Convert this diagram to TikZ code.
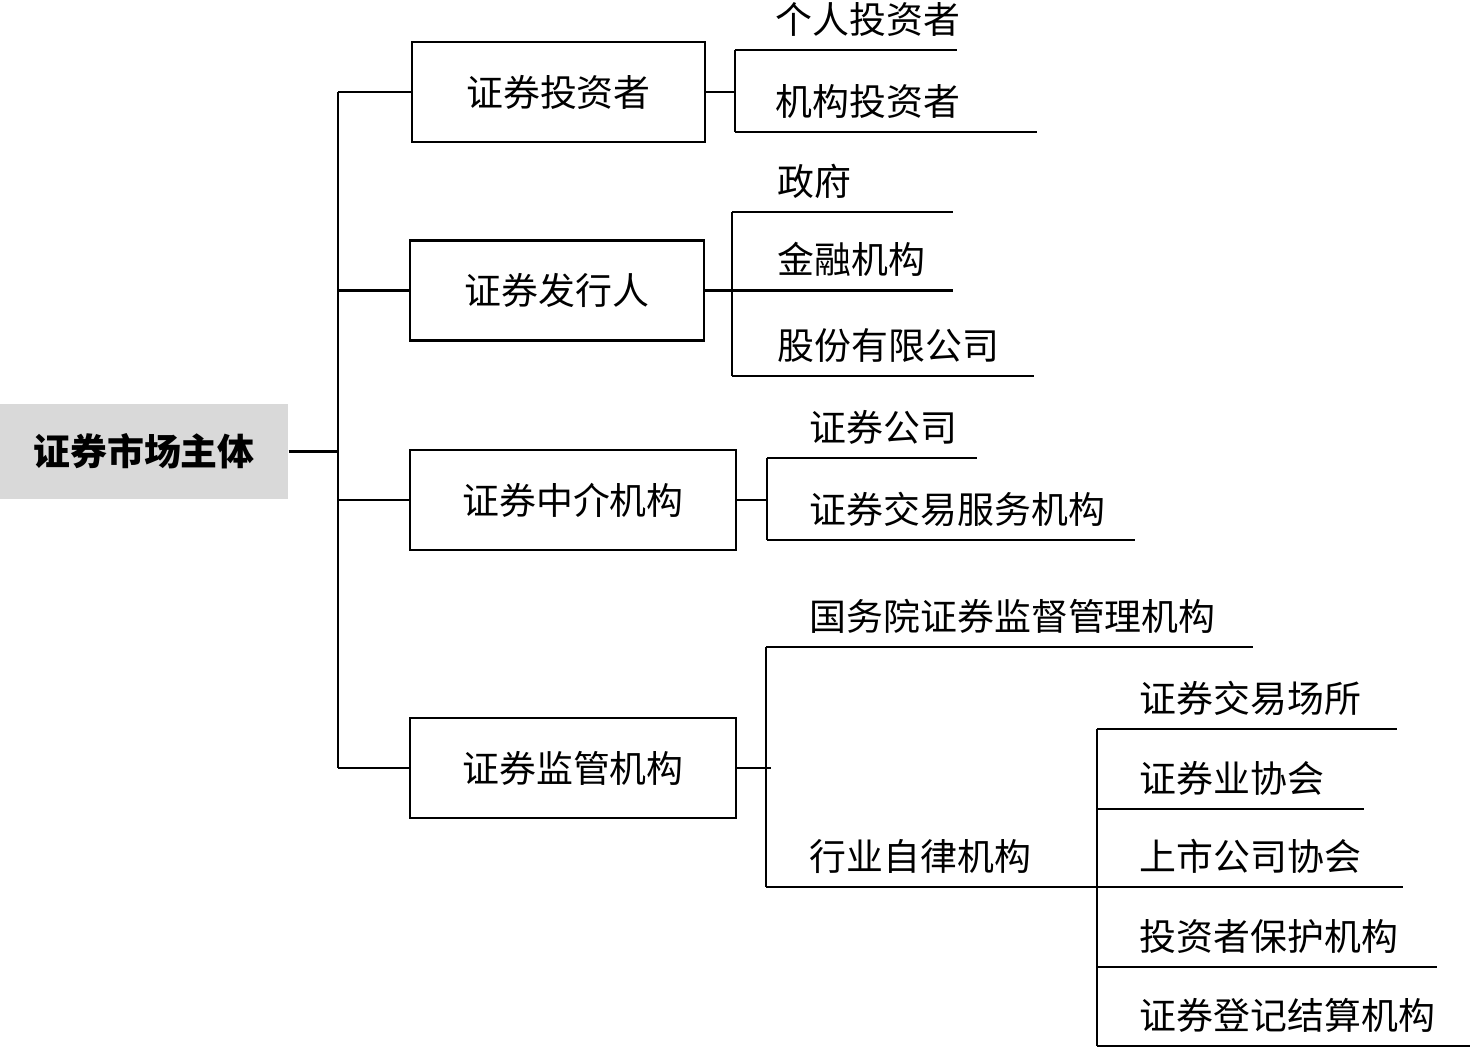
\documentclass[tikz,border=0pt]{standalone}
\usepackage{fontspec}
\setmainfont{Noto Sans CJK SC}
\usetikzlibrary{positioning, calc}

\tikzset{
    unitbox/.style={draw, rectangle, line width=0.6pt, minimum height=1.0cm, inner sep=0pt, font=\fontsize{10.5}{12}\selectfont},
    leaf/.style={anchor=base west, inner sep=0pt, font=\fontsize{10.5}{12}\selectfont},
    tie/.style={line width=0.6pt}
}

\begin{document}
\begin{tikzpicture}
    \useasboundingbox (0,0) rectangle (14.78,-10.50);

    % root and main units
    \node[rectangle, fill=black!15, minimum width=2.88cm, minimum height=0.95cm, font=\fontsize{10.5}{12}\selectfont\bfseries] (root) at (1.44,-4.515) {证券市场主体};
    \node[unitbox, minimum width=2.93cm] (inv) at (5.585,-0.92) {证券投资者};
    \node[unitbox, minimum width=2.94cm] (iss) at (5.57,-2.905) {证券发行人};
    \node[unitbox, minimum width=3.26cm] (mid) at (5.73,-5.00) {证券中介机构};
    \node[unitbox, minimum width=3.26cm] (sup) at (5.73,-7.68) {证券监管机构};

    \coordinate (trunk) at (3.38,-4.55);
    \draw[tie] (root.east) -- (root.east -| trunk);
    \draw[tie] (inv.west -| trunk) -- (sup.west -| trunk);
    \foreach \u in {inv, iss, mid, sup}
        \draw[tie] (\u.west) -- (\u.west -| trunk);

    % investors
    \coordinate (inva) at (7.35,-0.50);
    \coordinate (invb) at (7.35,-1.32);
    \node[leaf] (inv1) at ($(inva)+(0.40,0.17)$) {个人投资者};
    \node[leaf] (inv2) at ($(invb)+(0.40,0.17)$) {机构投资者};
    \draw[tie] (inv.east) -- (inv.east -| inva);
    \draw[tie] (inva) -- (invb);
    \draw[tie] (inva) -- ++(2.22,0);
    \draw[tie] (invb) -- ++(3.02,0);

    % issuers
    \coordinate (issa) at (7.32,-2.12);
    \coordinate (issb) at (7.32,-2.905);
    \coordinate (issc) at (7.32,-3.76);
    \node[leaf] (iss1) at ($(issa)+(0.45,0.17)$) {政府};
    \node[leaf] (iss2) at ($(issb)+(0.45,0.17)$) {金融机构};
    \node[leaf] (iss3) at ($(issc)+(0.45,0.17)$) {股份有限公司};
    \draw[tie] (iss.east) -- (issb);
    \draw[tie] (issa) -- (issc);
    \draw[tie] (issa) -- ++(2.21,0);
    \draw[tie] (issb) -- ++(2.21,0);
    \draw[tie] (issc) -- ++(3.02,0);

    % intermediaries
    \coordinate (mida) at (7.67,-4.58);
    \coordinate (midb) at (7.67,-5.40);
    \node[leaf] (mid1) at ($(mida)+(0.42,0.17)$) {证券公司};
    \node[leaf] (mid2) at ($(midb)+(0.42,0.17)$) {证券交易服务机构};
    \draw[tie] (mid.east) -- (mid.east -| mida);
    \draw[tie] (mida) -- (midb);
    \draw[tie] (mida) -- ++(2.10,0);
    \draw[tie] (midb) -- ++(3.68,0);

    % supervisors
    \coordinate (supa) at (7.66,-6.47);
    \coordinate (supb) at (7.66,-8.87);
    \node[leaf] (sup1) at ($(supa)+(0.43,0.17)$) {国务院证券监督管理机构};
    \node[leaf] (sup2) at ($(supb)+(0.43,0.17)$) {行业自律机构};
    \draw[tie] (sup.east) -- ++(0.34,0);
    \draw[tie] (supa) -- (supb);
    \draw[tie] (supa) -- ++(4.87,0);
    \draw[tie] (supb) -- ++(3.31,0);

    % self-regulatory bodies
    \coordinate (sra) at (10.97,-7.29);
    \coordinate (srb) at (10.97,-8.09);
    \coordinate (src) at (10.97,-8.87);
    \coordinate (srd) at (10.97,-9.67);
    \coordinate (sre) at (10.97,-10.46);
    \node[leaf] (sr1) at ($(sra)+(0.42,0.17)$) {证券交易场所};
    \node[leaf] (sr2) at ($(srb)+(0.42,0.17)$) {证券业协会};
    \node[leaf] (sr3) at ($(src)+(0.42,0.17)$) {上市公司协会};
    \node[leaf] (sr4) at ($(srd)+(0.42,0.17)$) {投资者保护机构};
    \node[leaf] (sr5) at ($(sre)+(0.42,0.17)$) {证券登记结算机构};
    \draw[tie] (sra) -- (sre);
    \draw[tie] (sra) -- ++(3.00,0);
    \draw[tie] (srb) -- ++(2.67,0);
    \draw[tie] (src) -- ++(3.06,0);
    \draw[tie] (srd) -- ++(3.40,0);
    \draw[tie] (sre) -- ++(3.73,0);
\end{tikzpicture}
\end{document}
